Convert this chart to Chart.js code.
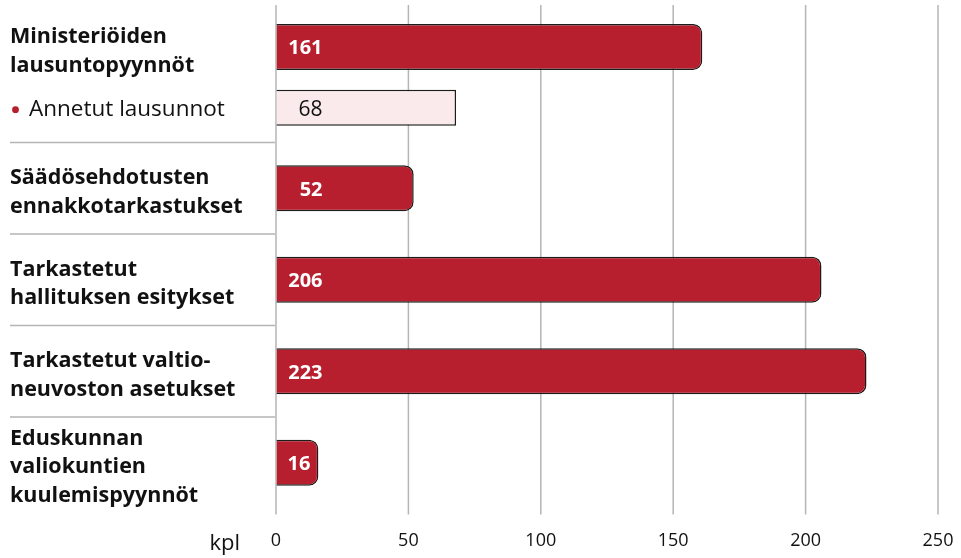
<!DOCTYPE html>
<html lang="fi">
<head>
    <meta charset="UTF-8">
    <title>Lausuntopyynnöt ja tarkastukset</title>
    <script src="https://cdn.jsdelivr.net/npm/chart.js"></script>
    <style>
        body {
            margin: 0;
            background-color: #ffffff;
        }

        #wrap {
            position: relative;
            width: 961px;
            height: 558px;
        }
    </style>
</head>
<body>
    <div id="wrap"><canvas id="kplChart"></canvas></div>

    <script>
        // Group labels (one row per category on the left).
        const groupLabels = [
            ['Ministeriöiden', 'lausuntopyynnöt'],
            ['Säädösehdotusten', 'ennakkotarkastukset'],
            ['Tarkastetut', 'hallituksen esitykset'],
            ['Tarkastetut valtio-', 'neuvoston asetukset'],
            ['Eduskunnan', 'valiokuntien', 'kuulemispyynnöt']
        ];
        const subLabel = 'Annetut lausunnot';

        const mainValues = [161, 52, 206, 223, 16];
        const givenValues = [68, null, null, null, null];

        const tickValues = [0, 50, 100, 150, 200, 250];
        const unitLabel = 'kpl';

        const RED = '#b71f2e';
        const PINK = '#fbeaec';
        const EDGE = '#1c1c1c';
        const GRID = '#b5b5b5';
        const LABEL_FONT = '"Open Sans", sans-serif';

        // Grid, separators and all the text that the axes can't do themselves.
        const overlay = {
            id: 'overlay',
            beforeDatasetsDraw(chart) {
                const { ctx, chartArea, scales: { x, y } } = chart;
                ctx.save();
                ctx.strokeStyle = GRID;
                ctx.lineWidth = 1.5;
                x.ticks.forEach(t => {
                    const px = x.getPixelForValue(t.value);
                    ctx.beginPath();
                    ctx.moveTo(px, 5);
                    ctx.lineTo(px, chartArea.bottom + 6);
                    ctx.stroke();
                });
                for (let i = 0; i < groupLabels.length - 1; i++) {
                    const py = (y.getPixelForValue(i) + y.getPixelForValue(i + 1)) / 2;
                    ctx.beginPath();
                    ctx.moveTo(10, py);
                    ctx.lineTo(chartArea.left - 1, py);
                    ctx.stroke();
                }
                ctx.restore();
            },
            afterDatasetsDraw(chart) {
                const { ctx, scales: { x } } = chart;
                const mainMeta = chart.getDatasetMeta(0);
                const subMeta = chart.getDatasetMeta(1);
                ctx.save();

                // left labels
                const lh = 28.5;
                ctx.fillStyle = '#111';
                ctx.textAlign = 'left';
                ctx.textBaseline = 'alphabetic';
                ctx.font = 'bold 21.5px ' + LABEL_FONT;
                groupLabels.forEach((lines, i) => {
                    const cy = mainMeta.data[i].y + 3;
                    const first = cy - (lines.length - 1) * lh / 2 + 7.5;
                    lines.forEach((line, k) => ctx.fillText(line, 10, first + k * lh));
                });

                // sub row label with bullet
                const sy = subMeta.data[0].y;
                ctx.fillStyle = RED;
                ctx.beginPath();
                ctx.arc(15.5, sy + 2, 3.4, 0, Math.PI * 2);
                ctx.fill();
                ctx.fillStyle = '#111';
                ctx.font = '22.5px ' + LABEL_FONT;
                ctx.fillText(subLabel, 29, sy + 8);

                // values inside the bars
                ctx.textAlign = 'right';
                ctx.font = 'bold 20px ' + LABEL_FONT;
                ctx.fillStyle = '#ffffff';
                mainMeta.data.forEach((bar, i) => {
                    const right = Math.min(bar.base + 46, bar.x - 8);
                    ctx.fillText(String(mainValues[i]), right, bar.y + 7.5);
                });
                ctx.font = '21px ' + LABEL_FONT;
                ctx.fillStyle = '#111';
                subMeta.data.forEach((bar, i) => {
                    if (givenValues[i] == null) return;
                    ctx.fillText(String(givenValues[i]), bar.base + 46, bar.y + 8);
                });

                // unit next to the tick labels
                ctx.font = '22px ' + LABEL_FONT;
                ctx.textAlign = 'right';
                ctx.fillText(unitLabel, x.getPixelForValue(0) - 36, 550);
                ctx.restore();
            }
        };

        const ctx = document.getElementById('kplChart').getContext('2d');
        const kplChart = new Chart(ctx, {
            type: 'bar',
            data: {
                labels: groupLabels.map(l => l.join(' ')),
                datasets: [{
                    label: 'Pyynnöt ja tarkastukset',
                    data: mainValues,
                    backgroundColor: RED,
                    borderColor: EDGE,
                    borderWidth: 1.5,
                    borderSkipped: 'start',
                    borderRadius: 9,
                    categoryPercentage: 2.18,
                    barPercentage: 0.5,
                    maxBarThickness: 46,
                    clip: false
                }, {
                    label: subLabel,
                    data: givenValues,
                    backgroundColor: PINK,
                    borderColor: EDGE,
                    borderWidth: 1.5,
                    borderSkipped: 'start',
                    categoryPercentage: 0.48,
                    barPercentage: 1.636,
                    clip: false
                }]
            },
            options: {
                indexAxis: 'y',
                responsive: true,
                maintainAspectRatio: false,
                animation: false,
                skipNull: true,
                layout: {
                    padding: { left: 276, right: 23, top: 51, bottom: 6 }
                },
                plugins: {
                    legend: { display: false },
                    tooltip: { enabled: false }
                },
                scales: {
                    x: {
                        min: 0,
                        max: 250,
                        afterBuildTicks: axis => {
                            axis.ticks = tickValues.map(v => ({ value: v }));
                        },
                        grid: {
                            display: true,
                            drawOnChartArea: false,
                            drawTicks: true,
                            tickLength: 22,
                            color: 'rgba(0,0,0,0)'
                        },
                        border: { display: false },
                        ticks: {
                            padding: 0,
                            color: '#111',
                            font: { family: '"Open Sans", sans-serif', size: 18 }
                        }
                    },
                    y: {
                        display: false
                    }
                }
            },
            plugins: [overlay]
        });
    </script>
</body>
</html>
